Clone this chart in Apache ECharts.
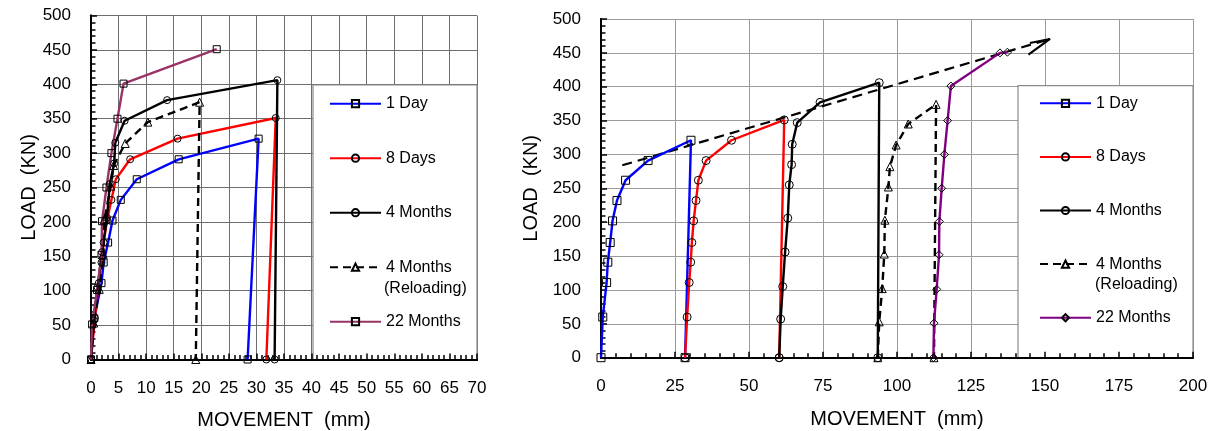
<!DOCTYPE html>
<html>
<head>
<meta charset="utf-8">
<script src="https://cdn.jsdelivr.net/npm/echarts@6/dist/echarts.min.js"></script>
<style>
  html, body { margin: 0; padding: 0; background: #fff; }
  .chart { position: absolute; left: 0; top: 0; width: 1213px; height: 431px; }
</style>
</head>
<body>
<div id="individual" class="chart"></div>
<div id="sequence" class="chart"></div>
<script>
// ---- Pile load tests: [movement (mm), load (kN)] ----
// Individual curves, each measured from its own zero
const day1     = [[0,0],[0.6,60],[1.9,111],[2.3,141],[3.1,170],[3.9,202],[5.4,232],[8.3,262],[15.9,291],[30.4,321],[28.4,0]];
const days8    = [[0,0],[0.7,60],[1.4,111],[1.9,141],[2.3,170],[2.9,202],[3.7,232],[4.5,262],[7.1,291],[15.7,321],[33.5,351],[31.8,0]];
const months4  = [[0,0],[0.5,57],[1.2,105],[2.0,156],[2.9,206],[3.4,255],[4.2,285],[4.4,315],[6.1,347],[13.8,377],[33.8,406],[33.3,0]];
const reload4  = [[0,0],[0.5,53],[1.5,102],[2.2,153],[2.4,203],[3.6,252],[4.1,282],[6.2,314],[10.3,345],[19.7,374],[19.0,0]];
const months22 = [[0,0],[0.2,51],[1.1,101],[1.9,152],[2.0,201],[2.8,250],[3.7,300],[4.8,350],[5.9,401],[22.8,451]];

// Same tests plotted one after another (cumulative movement)
const seqDay1     = [[0,0],[0.6,60],[1.9,111],[2.3,141],[3.1,170],[3.9,202],[5.4,232],[8.3,262],[15.9,291],[30.4,321],[28.4,0]];
const seqDays8    = [[28.4,0],[29.1,60],[29.8,111],[30.3,141],[30.7,170],[31.3,202],[32.1,232],[32.9,262],[35.5,291],[44.1,321],[61.9,351],[60.2,0]];
const seqMonths4  = [[60.2,0],[60.7,57],[61.4,105],[62.2,156],[63.1,206],[63.6,255],[64.4,285],[64.6,315],[66.3,347],[74.0,377],[94.0,406],[93.5,0]];
const seqReload4  = [[93.5,0],[94.0,53],[95.0,102],[95.7,153],[95.9,203],[97.1,252],[97.6,282],[99.7,314],[103.8,345],[113.2,374],[112.5,0]];
const seqMonths22 = [[112.3,0],[112.5,51],[113.4,101],[114.2,152],[114.3,201],[115.1,250],[116.0,300],[117.1,350],[118.2,401],[134.8,450],[137.3,451]];
// Failure-load trend line and its arrow head
const trendLine = [[7.2,284],[151.7,470.5]];
const trendHead = [[144.9,464.6],[151.7,470.5],[144.4,447.4]];

// Series names and axis titles
const names = ['1 Day', '8 Days', '4 Months', '4 Months (Reloading)', '22 Months'];
const RELOAD = '4 Months (Reloading)';
const xTitle = 'MOVEMENT  (mm)';
const yTitle = 'LOAD  (KN)';

const FONT = '"Liberation Sans", Arial, Helvetica, sans-serif';

function curve(name, data, color, symbol, size, dashed) {
  return {
    type: 'line', name: name, data: data, z: 6, clip: false, animation: false,
    symbol: symbol, symbolSize: size, showSymbol: true,
    lineStyle: { color: color, width: 2.4, type: dashed ? [8, 5] : 'solid' },
    itemStyle: { color: 'rgba(255,255,255,0)', borderColor: '#000', borderWidth: 1 },
    emphasis: { disabled: true }
  };
}

function build(cfg) {
  const g = cfg.grid;
  return {
    backgroundColor: 'transparent',
    animation: false,
    grid: { left: g.left, top: g.top, width: g.width, height: g.height, containLabel: false, outerBoundsMode: 'none' },
    xAxis: [
      {
        type: 'value', min: 0, max: cfg.xMax, interval: cfg.xStep, position: 'bottom', z: 5,
        axisLine: { show: true, onZero: false, lineStyle: { color: '#000', width: 2 } },
        axisTick: { show: true, inside: true, length: 6, lineStyle: { color: '#000', width: 1.5 } },
        minorTick: { show: true, splitNumber: 5, length: 4.5, lineStyle: { color: '#000', width: 1.5 } },
        axisLabel: { fontSize: 17, color: '#000', fontFamily: FONT, margin: 20 },
        splitLine: { show: false },
        name: xTitle, nameLocation: 'middle', nameGap: cfg.xNameGap, nameMoveOverlap: false,
        nameTextStyle: { fontSize: 20, color: '#000', fontFamily: FONT }
      },
      {
        // plot frame (top) and vertical grid lines, kept beneath the legend box
        type: 'value', min: 0, max: cfg.xMax, interval: cfg.xStep, position: 'top', z: 0,
        axisLine: { show: true, lineStyle: { color: '#000', width: 2 } },
        axisTick: { show: false }, axisLabel: { show: false },
        splitLine: { show: true, lineStyle: { color: cfg.gridColor, width: 1 } }
      }
    ],
    yAxis: [
      {
        type: 'value', min: 0, max: 500, interval: 50, position: 'left', z: 5,
        axisLine: { show: true, onZero: false, lineStyle: { color: '#000', width: 2 } },
        axisTick: { show: true, inside: true, length: 6, lineStyle: { color: '#000', width: 1.5 } },
        minorTick: { show: true, splitNumber: 5, length: 4.5, lineStyle: { color: '#000', width: 1.5 } },
        axisLabel: { fontSize: 17, color: '#000', fontFamily: FONT, margin: 20 },
        splitLine: { show: false },
        name: yTitle, nameLocation: 'middle', nameGap: cfg.yNameGap, nameRotate: 90, nameMoveOverlap: false,
        nameTextStyle: { fontSize: 20, color: '#000', fontFamily: FONT }
      },
      {
        // plot frame (right) and horizontal grid lines
        type: 'value', min: 0, max: 500, interval: 50, position: 'right', z: 0,
        axisLine: { show: true, lineStyle: { color: '#000', width: 2 } },
        axisTick: { show: false }, axisLabel: { show: false },
        splitLine: { show: true, lineStyle: { color: cfg.gridColor, width: 1 } }
      }
    ],
    legend: {
      orient: 'vertical', left: cfg.legend.left, top: cfg.legend.top,
      itemWidth: 51, itemHeight: 9, itemGap: cfg.legend.gap,
      data: names, selectedMode: false, z: 8,
      formatter: function (n) { return n === RELOAD ? '4 Months' : n; },
      textStyle: { fontSize: 16, color: '#000', fontFamily: FONT, lineHeight: 20 }
    },
    graphic: [
      {
        type: 'rect', z: 2, silent: true,
        shape: cfg.box,
        style: { fill: '#fff', stroke: '#8a8a8a', lineWidth: 1.2 }
      },
      {
        type: 'text', z: 8, silent: true,
        x: cfg.sub.x, y: cfg.sub.y,
        style: { text: '(Reloading)', fontSize: 16, fontFamily: FONT, fill: '#000', verticalAlign: 'middle', align: 'left' }
      }
    ],
    series: cfg.series
  };
}

const left = echarts.init(document.getElementById('individual'), null, { renderer: 'canvas' });
left.setOption(build({
  grid: { left: 91, top: 15.5, width: 386, height: 344 },
  xMax: 70, xStep: 5, xNameGap: 51, yNameGap: 52, gridColor: '#6e6e6e',
  legend: { left: 324, top: 88.7, gap: 34.5 },
  box: { x: 313, y: 85, width: 164, height: 274.5 },
  sub: { x: 384, y: 288.5 },
  series: [
    curve('1 Day', day1, '#0000ff', 'rect', 7, false),
    curve('8 Days', days8, '#ff0000', 'circle', 7, false),
    curve('4 Months', months4, '#000000', 'circle', 7, false),
    curve(RELOAD, reload4, '#000000', 'triangle', 8, true),
    curve('22 Months', months22, '#993366', 'rect', 7, false)
  ]
}));

const trend = {
  type: 'line', name: 'trend', data: trendLine, z: 5, clip: false, symbol: 'none',
  lineStyle: { color: '#000', width: 2.2, type: [10, 6] }, emphasis: { disabled: true }
};
const head = {
  type: 'line', name: 'trend head', data: trendHead, z: 5, clip: false, symbol: 'none',
  lineStyle: { color: '#000', width: 2.2 }, emphasis: { disabled: true }
};

const right = echarts.init(document.getElementById('sequence'), null, { renderer: 'canvas' });
right.setOption(build({
  grid: { left: 601, top: 19, width: 592, height: 338.7 },
  xMax: 200, xStep: 25, xNameGap: 52, yNameGap: 60, gridColor: '#9b9b9b',
  legend: { left: 1034, top: 88.3, gap: 33.6 },
  box: { x: 1018, y: 85.7, width: 175, height: 272 },
  sub: { x: 1095, y: 284.5 },
  series: [
    trend, head,
    curve('1 Day', seqDay1, '#0000ff', 'rect', 8, false),
    curve('8 Days', seqDays8, '#ff0000', 'circle', 8, false),
    curve('4 Months', seqMonths4, '#000000', 'circle', 8, false),
    curve(RELOAD, seqReload4, '#000000', 'triangle', 8, true),
    curve('22 Months', seqMonths22, '#800080', 'diamond', 8, false)
  ]
}));
</script>
</body>
</html>
